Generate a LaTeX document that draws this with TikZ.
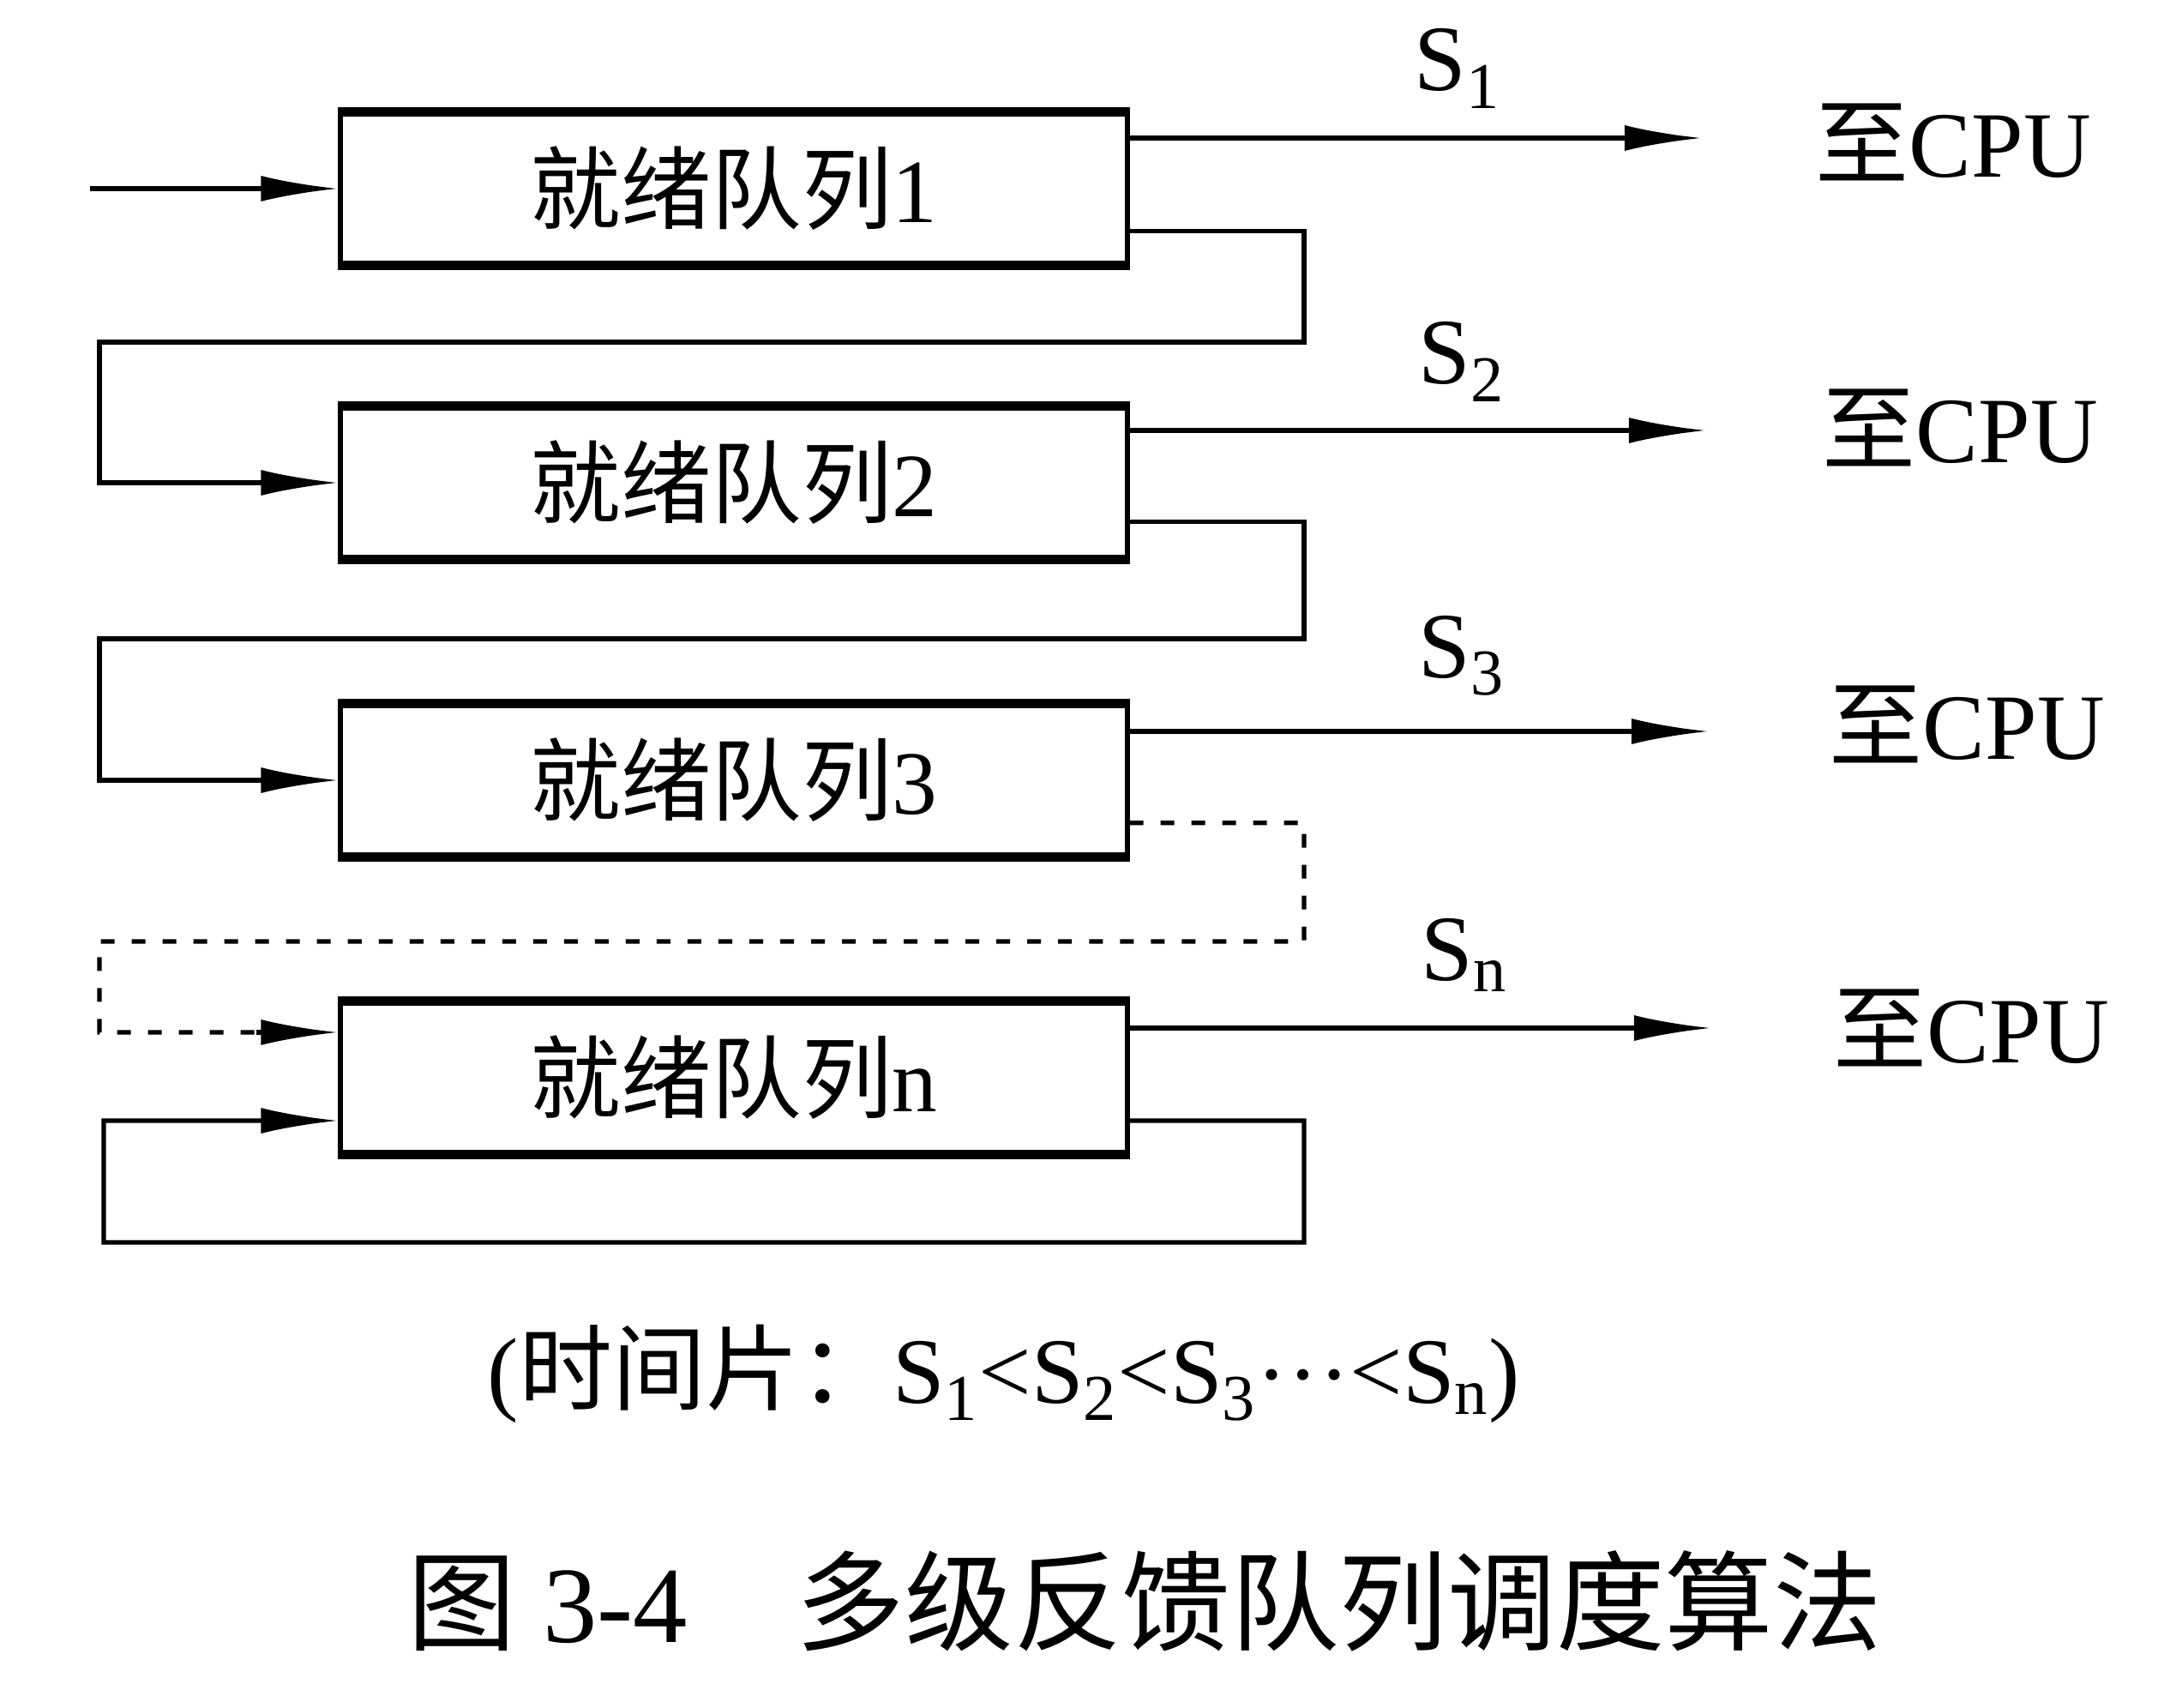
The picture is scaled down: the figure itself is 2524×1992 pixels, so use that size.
\documentclass[tikz,border=0pt]{standalone}
\usepackage{fontspec}
\setmainfont{Liberation Serif}
\newfontfamily\cjk{Noto Sans CJK SC}
\usetikzlibrary{arrows.meta}
\begin{document}
\begin{tikzpicture}[x=0.01cm,y=-0.01cm,
  qbox/.style={draw, line width=1.6pt, minimum width=9.17cm, minimum height=1.74cm, inner sep=0pt, font=\fontsize{30}{30}\selectfont},
  conn/.style={line width=1.5pt},
  arr/.style={-{Latex[length=0.9cm,width=0.3cm]}},
  lbl/.style={font=\fontsize{31}{31}\selectfont, inner sep=0pt},
  dsh/.style={dash pattern=on 0.16cm off 0.2cm}]
\useasboundingbox (0,0) rectangle (2524,1992);
% queues
\node[qbox] (q1) at (856,220) {{\cjk 就绪队列}1};
\node[qbox] (q2) at (856,563) {{\cjk 就绪队列}2};
\node[qbox] (q3) at (856,910) {{\cjk 就绪队列}3};
\node[qbox] (qn) at (856,1257) {{\cjk 就绪队列}n};
\foreach \n in {q1,q2,q3,qn}
  \draw[line width=2.8pt] (\n.north west) -- (\n.north east) (\n.south west) -- (\n.south east);
% input
\coordinate (in) at (105,220);
\draw[conn,arr] (in) -- (q1.west);
% outputs
\coordinate (o1) at (1985,161);
\coordinate (o2) at (1990,502);
\coordinate (o3) at (1993,853);
\coordinate (on) at (1996,1199);
\draw[conn,arr] (q1.east |- o1) -- (o1);
\draw[conn,arr] (q2.east |- o2) -- (o2);
\draw[conn,arr] (q3.east |- o3) -- (o3);
\draw[conn,arr] (qn.east |- on) -- (on);
% time slice labels
\node[lbl] (s1) at (1700,80) {S\textsubscript{1}};
\node[lbl] (s2) at (1705,422) {S\textsubscript{2}};
\node[lbl] (s3) at (1705,765) {S\textsubscript{3}};
\node[lbl] (sn) at (1708,1114) {S\textsubscript{n}};
% to CPU
\node[lbl,anchor=west] (c1) at (2117,166) {{\cjk 至}CPU};
\node[lbl,anchor=west] (c2) at (2125,499) {{\cjk 至}CPU};
\node[lbl,anchor=west] (c3) at (2133,845) {{\cjk 至}CPU};
\node[lbl,anchor=west] (cn) at (2138,1199) {{\cjk 至}CPU};
% feedback
\draw[conn,arr] ([yshift=0.4cm]q1.south east) -| (1521,399) -| (116,563) -- (q2.west);
\draw[conn,arr] ([yshift=0.44cm]q2.south east) -| (1521,745) -| (116,910) -- (q3.west);
\draw[conn,dsh] ([yshift=0.4cm]q3.south east) -| (1521,1098) -| (116,1204) -- ([yshift=0.53cm,xshift=-0.9cm]qn.west);
\draw[conn,arr] ([yshift=0.53cm,xshift=-0.95cm]qn.west) -- ([yshift=0.53cm]qn.west);
\draw[conn,arr] ([yshift=-0.5cm]qn.east) -| (1521,1449) -| (121,1307) -- ([yshift=-0.5cm]qn.west);
% captions
\node[font=\fontsize{31}{31}\selectfont] (cap1) at (1171,1602) {({\cjk 时间片：}S\textsubscript{1}<S\textsubscript{2}<S\textsubscript{3}\raisebox{0.25em}{…}<S\textsubscript{n})};
\node[font=\fontsize{36}{36}\selectfont] (cap2) at (1335,1867) {{\cjk 图}~3-4\hspace{1em}{\cjk 多级反馈队列调度算法}};
\end{tikzpicture}
\end{document}
